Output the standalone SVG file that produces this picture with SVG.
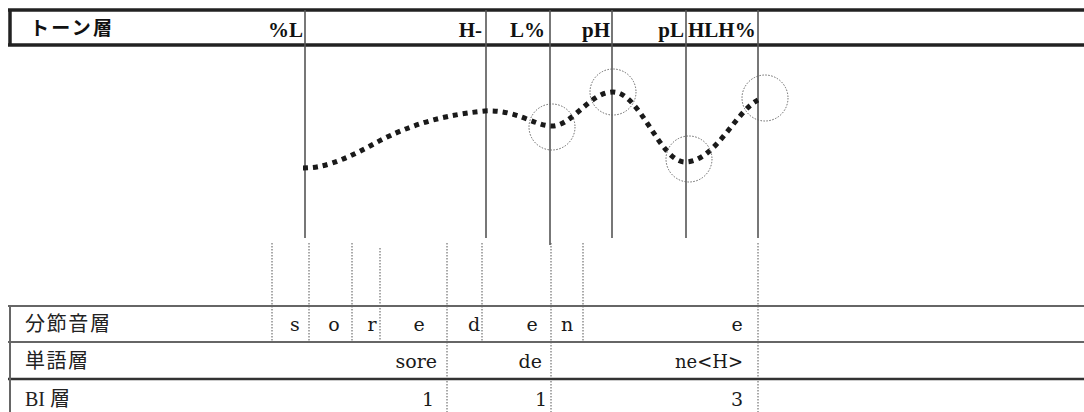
<svg xmlns="http://www.w3.org/2000/svg" width="1084" height="412" viewBox="0 0 1084 412">
<style>
.thick{stroke:#222;stroke-width:3.5;fill:none}
.rowline{stroke:#666;stroke-width:2;fill:none}
.rowdark{stroke:#333;stroke-width:2.5;fill:none}
.solid{stroke:#555;stroke-width:1.6;fill:none}
.dot{stroke:#555;stroke-width:1;stroke-dasharray:1.5 1.5;fill:none}
.circ{stroke:#666;stroke-width:1;stroke-dasharray:1.5 1.5;fill:none}
.curve{stroke:#1a1a1a;stroke-width:5;stroke-dasharray:5 5;fill:none}
.tl{font-family:"Liberation Serif","Noto Sans CJK JP",serif;font-weight:bold;font-size:21px;fill:#111}
.jpb{font-family:"Noto Sans CJK JP",serif;font-weight:bold;font-size:19px;fill:#111}
.jp{font-family:"Liberation Serif","Noto Sans CJK JP",serif;font-size:20px;fill:#222}
.t{font-family:"DejaVu Serif",serif;font-size:19px;fill:#1a1a1a}
</style>
<rect width="1084" height="412" fill="#fff"/>
<g id="tone-tier">
  <line class="thick" x1="8" y1="10" x2="1084" y2="10"/>
  <line class="thick" x1="8" y1="45" x2="1084" y2="45"/>
  <line class="thick" x1="10" y1="10" x2="10" y2="45"/>
  <text class="jpb" x="30" y="35" textLength="82">トーン層</text>
  <text class="tl" x="303" y="37" text-anchor="end">%L</text>
  <text class="tl" x="482" y="37" text-anchor="end">H-</text>
  <text class="tl" x="545" y="37" text-anchor="end">L%</text>
  <text class="tl" x="610" y="37" text-anchor="end">pH</text>
  <text class="tl" x="684" y="37" text-anchor="end">pL</text>
  <text class="tl" x="688" y="37">HLH%</text>
</g>
<g id="tone-lines">
  <line class="solid" x1="305" y1="10" x2="305" y2="238"/>
  <line class="solid" x1="486" y1="10" x2="486" y2="238"/>
  <line class="solid" x1="550" y1="10" x2="550" y2="245"/>
  <line class="solid" x1="612" y1="10" x2="612" y2="238"/>
  <line class="solid" x1="686" y1="10" x2="686" y2="238"/>
  <line class="solid" x1="758" y1="10" x2="758" y2="238"/>
</g>
<g id="f0-curve">
  <path class="curve" d="M303,168 C322,168 340,162 370,146 C395,132 430,116 485,111 C515,109 535,126 552,126 C572,126 590,92 613,92 C640,92 660,162 685,162 C715,162 735,112 758,100"/>
  <circle class="circ" cx="552" cy="127" r="23"/>
  <circle class="circ" cx="613" cy="92" r="23"/>
  <circle class="circ" cx="689" cy="159" r="23"/>
  <circle class="circ" cx="765" cy="98" r="23"/>
</g>
<g id="segment-lines">
  <line class="dot" x1="272" y1="243" x2="272" y2="342"/>
  <line class="dot" x1="309" y1="243" x2="309" y2="342"/>
  <line class="dot" x1="352" y1="243" x2="352" y2="342"/>
  <line class="dot" x1="380" y1="248" x2="380" y2="342"/>
  <line class="dot" x1="447" y1="243" x2="447" y2="412"/>
  <line class="dot" x1="482" y1="243" x2="482" y2="342"/>
  <line class="dot" x1="551" y1="243" x2="551" y2="412"/>
  <line class="dot" x1="583" y1="243" x2="583" y2="342"/>
  <line class="dot" x1="758" y1="243" x2="758" y2="412"/>
</g>
<g id="lower-tiers">
  <line class="rowline" x1="8" y1="306" x2="1084" y2="306"/>
  <line class="rowline" x1="8" y1="342" x2="1084" y2="342"/>
  <line class="rowdark" x1="8" y1="379" x2="1084" y2="379"/>
  <line class="rowline" x1="10" y1="306" x2="10" y2="412"/>
</g>
<g id="segment-tier">
  <text class="jp" x="25" y="331" textLength="85">分節音層</text>
  <text class="t" x="295" y="331" text-anchor="middle">s</text>
  <text class="t" x="334" y="331" text-anchor="middle">o</text>
  <text class="t" x="372" y="331" text-anchor="middle">r</text>
  <text class="t" x="419" y="331" text-anchor="middle">e</text>
  <text class="t" x="474" y="331" text-anchor="middle">d</text>
  <text class="t" x="532" y="331" text-anchor="middle">e</text>
  <text class="t" x="567" y="331" text-anchor="middle">n</text>
  <text class="t" x="737" y="331" text-anchor="middle">e</text>
</g>
<g id="word-tier">
  <text class="jp" x="25" y="368" textLength="63">単語層</text>
  <text class="t" x="437" y="368" text-anchor="end">sore</text>
  <text class="t" x="542" y="368" text-anchor="end">de</text>
  <text class="t" x="743" y="368" text-anchor="end" textLength="68" lengthAdjust="spacingAndGlyphs">ne&lt;H&gt;</text>
</g>
<g id="bi-tier">
  <text class="jp" x="25" y="406">BI 層</text>
  <text class="t" x="434" y="406" text-anchor="end">1</text>
  <text class="t" x="547" y="406" text-anchor="end">1</text>
  <text class="t" x="743" y="406" text-anchor="end">3</text>
</g>
</svg>
